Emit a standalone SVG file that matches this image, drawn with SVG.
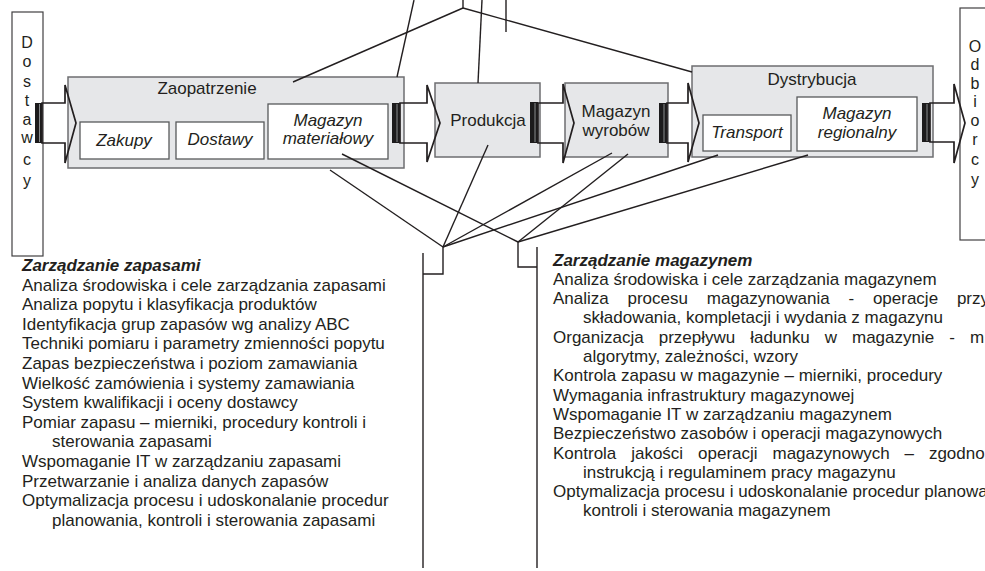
<svg xmlns="http://www.w3.org/2000/svg" width="985" height="571" viewBox="0 0 985 571">
<style>
text{font-family:"Liberation Sans",Arial,sans-serif;fill:#231f20;font-size:17px}
.c{text-anchor:middle}
.it{font-style:italic}
.h{font-style:italic;font-weight:bold}
.big{fill:#e6e7e9;stroke:#6d6e70;stroke-width:1.5}
.sub{fill:#fff;stroke:#58595b;stroke-width:1.3}
.side{fill:#fff;stroke:#414042;stroke-width:1.2}
.ln{fill:none;stroke:#231f20;stroke-width:1.4}
.arr{fill:none;stroke:#231f20;stroke-width:1.7;stroke-linejoin:miter}
.bar{fill:#1c1b1c}
.barl{stroke:#a7a9ac;stroke-width:0.8}
.let{font-size:16px}
</style>
<rect width="985" height="571" fill="#fff"/>

<g id="dostawcy">
<rect class="side" x="12" y="12" width="31" height="244"/>
<text class="c let" x="27" y="48">D</text>
<text class="c let" x="27" y="67">o</text>
<text class="c let" x="27" y="87">s</text>
<text class="c let" x="27" y="106">t</text>
<text class="c let" x="27" y="125">a</text>
<text class="c let" x="27" y="143">w</text>
<text class="c let" x="27" y="165">c</text>
<text class="c let" x="27" y="186">y</text>
</g>

<g id="odbiorcy">
<rect class="side" x="960" y="8" width="40" height="232"/>
<text class="c let" x="975" y="52">O</text>
<text class="c let" x="975" y="70">d</text>
<text class="c let" x="975" y="89">b</text>
<text class="c let" x="975" y="107">i</text>
<text class="c let" x="975" y="126">o</text>
<text class="c let" x="975" y="145">r</text>
<text class="c let" x="975" y="165">c</text>
<text class="c let" x="975" y="185">y</text>
</g>

<g id="zaopatrzenie">
<rect class="big" x="68" y="77" width="336" height="91"/>
<text class="c" x="207" y="94">Zaopatrzenie</text>
</g>
<g id="zakupy">
<rect class="sub" x="80" y="122" width="89" height="37"/>
<text class="c it" x="124" y="146">Zakupy</text>
</g>
<g id="dostawy">
<rect class="sub" x="176" y="122" width="88" height="37"/>
<text class="c it" x="220" y="145">Dostawy</text>
</g>
<g id="magazyn-materialowy">
<rect class="sub" x="268" y="104" width="120" height="55"/>
<text class="c it" x="328" y="126">Magazyn</text>
<text class="c it" x="328" y="144">materiałowy</text>
</g>

<g id="produkcja">
<rect class="big" x="435" y="83" width="105" height="74"/>
<text class="c" x="488" y="126">Produkcja</text>
</g>

<g id="magazyn-wyrobow">
<rect class="big" x="565" y="83" width="103" height="74"/>
<text class="c" x="616" y="117">Magazyn</text>
<text class="c" x="616" y="136">wyrobów</text>
</g>

<g id="dystrybucja">
<rect class="big" x="692" y="66" width="241" height="91"/>
<text class="c" x="812" y="85">Dystrybucja</text>
</g>
<g id="transport">
<rect class="sub" x="703" y="115" width="88" height="36"/>
<text class="c it" x="747" y="138">Transport</text>
</g>
<g id="magazyn-regionalny">
<rect class="sub" x="797" y="97" width="120" height="54"/>
<text class="c it" x="857" y="119">Magazyn</text>
<text class="c it" x="857" y="138">regionalny</text>
</g>

<g id="connectors">
<!-- flow arrows -->
<rect class="bar" x="35" y="103" width="7" height="40"/><line class="barl" x1="39.5" y1="104" x2="39.5" y2="142"/>
<polygon class="arr" points="42,103 65,103 65,85 76,123 65,163 65,143 42,143"/>
<rect class="bar" x="392" y="103" width="8" height="40"/><line class="barl" x1="397" y1="104" x2="397" y2="142"/>
<polygon class="arr" points="400,103 427,103 427,85 440,123 427,162 427,143 400,143"/>
<rect class="bar" x="530" y="102" width="8" height="41"/><line class="barl" x1="535" y1="103" x2="535" y2="142"/>
<polygon class="arr" points="538,103 563,103 563,84 574,123 563,163 563,143 538,143"/>
<rect class="bar" x="659" y="103" width="8" height="40"/><line class="barl" x1="664" y1="104" x2="664" y2="142"/>
<polygon class="arr" points="667,103 688,103 688,83 699,123 688,162 688,143 667,143"/>
<rect class="bar" x="922" y="103" width="8" height="39"/><line class="barl" x1="927" y1="104" x2="927" y2="141"/>
<polygon class="arr" points="930,103 954,103 954,84 965,123 954,163 954,142 930,142"/>

<!-- top lines -->
<line class="ln" x1="463" y1="0" x2="463" y2="8"/>
<line class="ln" x1="463" y1="8" x2="293" y2="82"/>
<line class="ln" x1="463" y1="8" x2="692" y2="72"/>
<line class="ln" x1="414" y1="0" x2="397" y2="77"/>
<line class="ln" x1="482" y1="0" x2="478" y2="83"/>
<line class="ln" x1="506" y1="0" x2="506" y2="32"/>

<!-- bottom lines to left hub -->
<line class="ln" x1="330" y1="170" x2="443" y2="247"/>
<line class="ln" x1="488" y1="145" x2="443" y2="247"/>
<line class="ln" x1="612" y1="153" x2="443" y2="247"/>
<line class="ln" x1="718" y1="155" x2="443" y2="247"/>
<!-- bottom lines to right hub -->
<line class="ln" x1="342" y1="154" x2="518" y2="242"/>
<line class="ln" x1="628" y1="154" x2="518" y2="242"/>
<line class="ln" x1="808" y1="155" x2="518" y2="242"/>

<!-- brackets -->
<polyline class="ln" points="443,247 443,274 423,274"/>
<line class="ln" x1="423" y1="253" x2="423" y2="568"/>
<polyline class="ln" points="518,242 518,267 537,267"/>
<line class="ln" x1="537" y1="247" x2="537" y2="568"/>
</g>

<g id="zarzadzanie-zapasami">
<text class="h" x="22" y="271">Zarządzanie zapasami</text>
<text x="22" y="290.6">Analiza środowiska i cele zarządzania zapasami</text>
<text x="22" y="310.2">Analiza popytu i klasyfikacja produktów</text>
<text x="22" y="329.8">Identyfikacja grup zapasów wg analizy ABC</text>
<text x="22" y="349.4">Techniki pomiaru i parametry zmienności popytu</text>
<text x="22" y="369">Zapas bezpieczeństwa i poziom zamawiania</text>
<text x="22" y="388.6">Wielkość zamówienia i systemy zamawiania</text>
<text x="22" y="408.2">System kwalifikacji i oceny dostawcy</text>
<text x="22" y="427.8">Pomiar zapasu – mierniki, procedury kontroli i</text>
<text x="52" y="447.4">sterowania zapasami</text>
<text x="22" y="467">Wspomaganie IT w zarządzaniu zapasami</text>
<text x="22" y="486.6">Przetwarzanie i analiza danych zapasów</text>
<text x="22" y="506.2">Optymalizacja procesu i udoskonalanie procedur</text>
<text x="52" y="525.8">planowania, kontroli i sterowania zapasami</text>
</g>

<g id="zarzadzanie-magazynem">
<text class="h" x="553" y="265.5">Zarządzanie magazynem</text>
<text x="553" y="284.8">Analiza środowiska i cele zarządzania magazynem</text>
<text y="304.1"><tspan x="553">Analiza</tspan><tspan x="627.5">procesu</tspan><tspan x="706.8">magazynowania</tspan><tspan x="848.4">-</tspan><tspan x="872.9">operacje</tspan><tspan x="956.9">przy</tspan></text>
<text x="583" y="323.4">składowania, kompletacji i wydania z magazynu</text>
<text y="342.7"><tspan x="553">Organizacja</tspan><tspan x="658.7">przepływu</tspan><tspan x="750.2">ładunku</tspan><tspan x="824.7">w</tspan><tspan x="852">magazynie</tspan><tspan x="949.2">-</tspan><tspan x="969.9">m</tspan></text>
<text x="583" y="362">algorytmy, zależności, wzory</text>
<text x="553" y="381.3">Kontrola zapasu w magazynie – mierniki, procedury</text>
<text x="553" y="400.6">Wymagania infrastruktury magazynowej</text>
<text x="553" y="419.9">Wspomaganie IT w zarządzaniu magazynem</text>
<text x="553" y="439.2">Bezpieczeństwo zasobów i operacji magazynowych</text>
<text y="458.5"><tspan x="553">Kontrola</tspan><tspan x="631.2">jakości</tspan><tspan x="698.1">operacji</tspan><tspan x="772.5">magazynowych</tspan><tspan x="904.5">–</tspan><tspan x="928.9">zgodno</tspan></text>
<text x="583" y="477.8">instrukcją i regulaminem pracy magazynu</text>
<text x="553" y="497.1">Optymalizacja procesu i udoskonalanie procedur planowa</text>
<text x="583" y="516.4">kontroli i sterowania magazynem</text>
</g>
</svg>
